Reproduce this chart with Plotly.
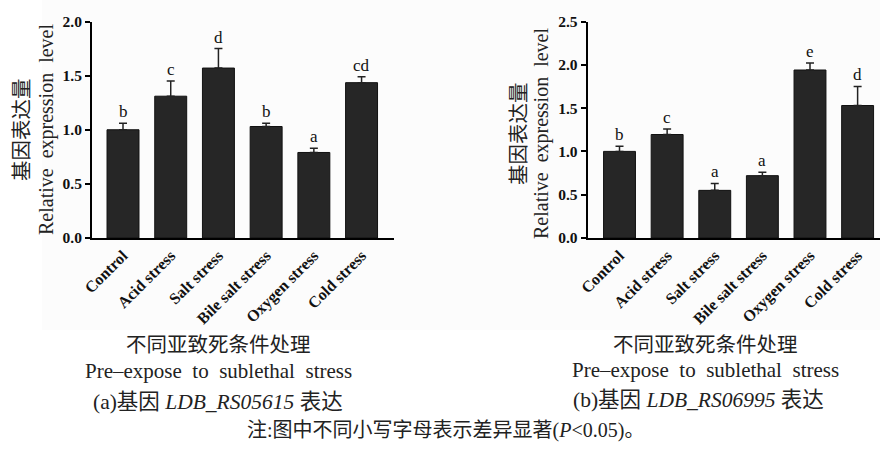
import plotly.graph_objects as go

W, H = 880, 449

categories = ["Control", "Acid stress", "Salt stress", "Bile salt stress", "Oxygen stress", "Cold stress"]

a_values = [1.0, 1.31, 1.57, 1.03, 0.79, 1.435]
a_errors = [0.06, 0.14, 0.18, 0.03, 0.04, 0.055]
a_letters = ["b", "c", "d", "b", "a", "cd"]

b_values = [1.0, 1.195, 0.55, 0.72, 1.94, 1.53]
b_errors = [0.06, 0.065, 0.08, 0.04, 0.08, 0.22]
b_letters = ["b", "c", "a", "a", "e", "d"]

a_yticks = [0.0, 0.5, 1.0, 1.5, 2.0]
b_yticks = [0.0, 0.5, 1.0, 1.5, 2.0, 2.5]


def fx(px):
    return px / W


def fy(py):
    return 1 - py / H


SERIF = "Liberation Serif, Times New Roman, Noto Sans CJK SC, serif"
BAR = "#262626"

fig = go.Figure()


def add_panel(vals, errs, xa, ya):
    fig.add_trace(go.Bar(
        x=categories, y=vals, xaxis=xa, yaxis=ya,
        width=0.67,
        marker=dict(color=BAR, line=dict(color="#111", width=1)),
        error_y=dict(type="data", array=errs, arrayminus=[0] * len(errs), symmetric=False,
                     color="#222", thickness=1.5, width=4),
        showlegend=False,
        hoverinfo="skip",
    ))


add_panel(a_values, a_errors, "x", "y")
add_panel(b_values, b_errors, "x2", "y2")

ydom = [fy(238), fy(21.5)]

axis_common = dict(showline=True, linecolor="black", linewidth=2, showgrid=False, zeroline=False,
                   automargin=False)
xtick_font = dict(family=SERIF, size=16, color="#111")
ytick_font = dict(family=SERIF, size=15.5, color="#111")

fig.update_layout(
    width=W, height=H,
    margin=dict(l=0, r=0, t=0, b=0, pad=0, autoexpand=False),
    paper_bgcolor="white",
    plot_bgcolor="rgba(0,0,0,0)",
    xaxis=dict(domain=[fx(92), fx(394)], range=[-0.65, 5.68], anchor="y",
               tickangle=-45, ticks="", tickfont=xtick_font, **axis_common),
    yaxis=dict(domain=ydom, range=[0, 2.0], anchor="x", tickvals=a_yticks,
               ticktext=[f"<b>{v:.1f}</b>" for v in a_yticks],
               ticks="outside", ticklen=5, tickwidth=2, tickcolor="black",
               tickfont=ytick_font, **axis_common),
    xaxis2=dict(domain=[fx(587.7), 1.0], range=[-0.668, 5.47], anchor="y2",
                tickangle=-45, ticks="", tickfont=xtick_font, **axis_common),
    yaxis2=dict(domain=ydom, range=[0, 2.5], anchor="x2", tickvals=b_yticks,
                ticktext=[f"<b>{v:.1f}</b>" for v in b_yticks],
                ticks="outside", ticklen=5, tickwidth=2, tickcolor="black",
                tickfont=ytick_font, **axis_common),
)

fig.update_xaxes(tickvals=categories, ticktext=[f"<b>{c}</b>" for c in categories])

# faint scanned background panel
fig.add_shape(type="rect", xref="paper", yref="paper", x0=fx(42), x1=1.0, y0=fy(330), y1=1.0,
              fillcolor="#fcfcfc", line=dict(width=0), layer="below")

annotations = []

# significance letters
for xa, ya, vals, errs, letters in (("x", "y", a_values, a_errors, a_letters),
                                     ("x2", "y2", b_values, b_errors, b_letters)):
    for c, v, e, l in zip(categories, vals, errs, letters):
        annotations.append(dict(x=c, y=v + e, xref=xa, yref=ya, text=l, showarrow=False,
                                yanchor="bottom", yshift=0,
                                font=dict(family=SERIF, size=17, color="#111")))

# y titles
for x_cn, x_en, yc in ((20, 47, 130), (517, 541, 134)):
    annotations.append(dict(x=fx(x_cn), y=fy(yc), xref="paper", yref="paper", text="基因表达量",
                            textangle=-90, showarrow=False, xanchor="center", yanchor="middle",
                            font=dict(family="Noto Sans CJK SC", size=20.5, color="#222")))
    annotations.append(dict(x=fx(x_en), y=fy(yc), xref="paper", yref="paper",
                            text="Relative\u00a0 expression\u00a0 level",
                            textangle=-90, showarrow=False, xanchor="center", yanchor="middle",
                            font=dict(family=SERIF, size=20, color="#222")))

# bottom captions
captions = [
    (218, 345, "不同亚致死条件处理", 20.5),
    (218, 371, "Pre\u2013expose\u00a0 to\u00a0 sublethal\u00a0 stress", 21),
    (218, 402, "(a)基因 <i>LDB_RS05615</i> 表达", 21.5),
    (705, 345, "不同亚致死条件处理", 20.5),
    (705, 370, "Pre\u2013expose\u00a0 to\u00a0 sublethal\u00a0 stress", 21),
    (698, 400, "(b)基因 <i>LDB_RS06995</i> 表达", 21.5),
    (445, 430, "注:图中不同小写字母表示差异显著(<i>P</i><0.05)。", 20),
]
for x, y, t, s in captions:
    annotations.append(dict(x=fx(x), y=fy(y), xref="paper", yref="paper", text=t, showarrow=False,
                            xanchor="center", yanchor="middle",
                            font=dict(family=SERIF, size=s, color="#222")))

fig.update_layout(annotations=annotations, hovermode=False)

fig.write_html("out.html", config={"displayModeBar": False, "staticPlot": True},
               post_script="document.body.style.margin='0';document.body.style.padding='0';")
